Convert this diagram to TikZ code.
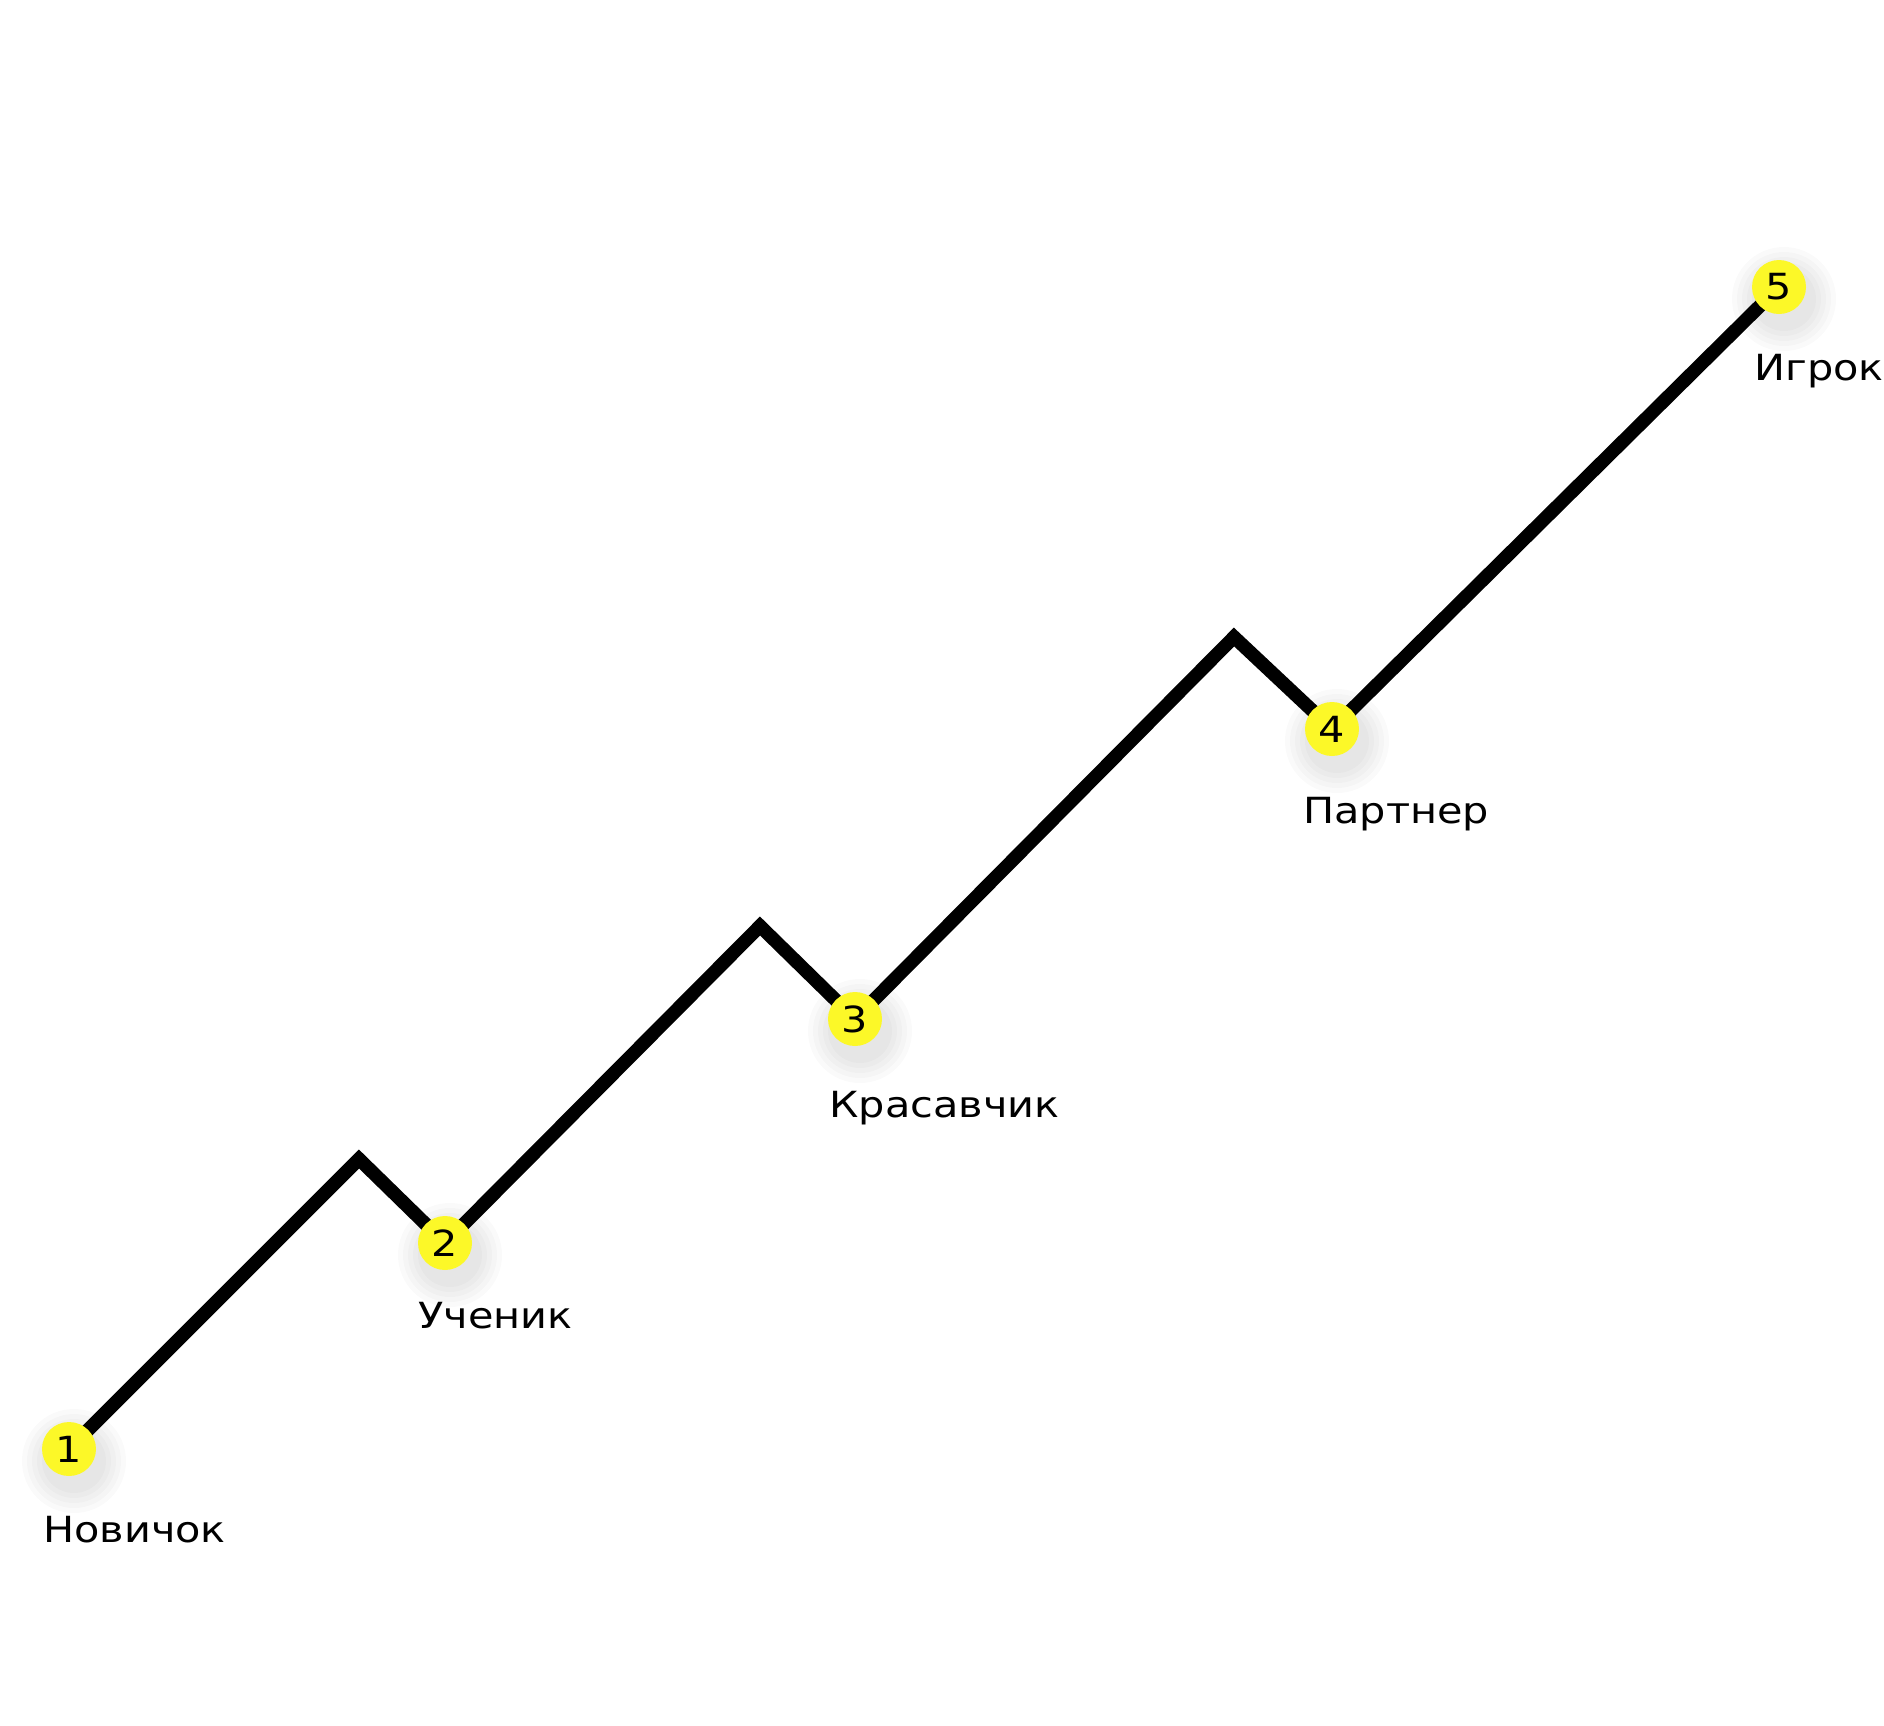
\documentclass[tikz,border=0pt]{standalone}
\usepackage{fontspec}
\setmainfont{DejaVu Sans}
\newfontfamily\labelfont[FakeStretch=1.15]{DejaVu Sans}
\definecolor{dotyellow}{RGB}{252,248,40}
\begin{document}
\begin{tikzpicture}[x=0.5pt,y=-0.5pt,
  path/.style={line width=6.75pt,black,miter limit=10,line join=miter},
  dot/.style={circle,fill=dotyellow,minimum size=27pt,inner sep=0pt,font=\labelfont\fontsize{18pt}{20pt}\selectfont},
  lbl/.style={anchor=base west,inner sep=0pt,font=\labelfont\fontsize{18pt}{20pt}\selectfont}]
\useasboundingbox (0,0) rectangle (1884,1725);
\fill[white] (0,0) rectangle (1884,1725);
% coordinates
\coordinate (c1) at (69,1449);
\coordinate (p1) at (359,1159);
\coordinate (c2) at (445,1243);
\coordinate (p2) at (760,926);
\coordinate (c3) at (855,1019);
\coordinate (p3) at (1234,637);
\coordinate (c4) at (1332,729);
\coordinate (c5) at (1779,287);
\draw[path] (c1) -- (p1) -- (c2) -- (p2) -- (c3) -- (p3) -- (c4) -- (c5);
% shadows
\foreach \c in {c1,c2,c3,c4,c5}{
  \foreach \r in {52,47,42,37,32}{
    \fill[black,opacity=0.02] ([shift={(5,12)}]\c) circle[radius=\r*0.5pt];
  }
}
\node[dot] (n1) at (c1) {1};
\node[dot] (n2) at (c2) {2};
\node[dot] (n3) at (c3) {3};
\node[dot] (n4) at (c4) {4};
\node[dot] (n5) at (c5) {5};
\node[lbl] (l1) at (43,1542) {Новичок};
\node[lbl] (l2) at (418,1328) {Ученик};
\node[lbl] (l3) at (829,1117) {Красавчик};
\node[lbl] (l4) at (1303,823) {Партнер};
\node[lbl] (l5) at (1754,380) {Игрок};
\end{tikzpicture}
\end{document}
